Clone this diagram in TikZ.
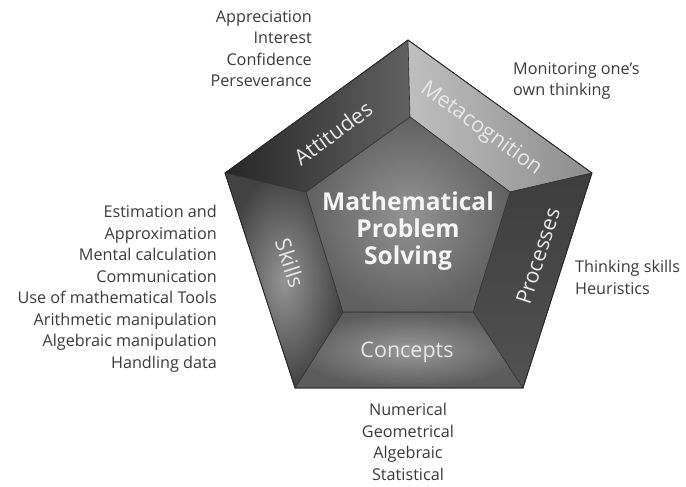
\documentclass[tikz,border=0pt]{standalone}
\usepackage{fontspec}
\setmainfont{Open Sans}
\usetikzlibrary{calc}
\definecolor{txt}{HTML}{3A3A3A}
\definecolor{lbl}{HTML}{E8E8E8}
\tikzset{
  face/.style={draw=black!80, line width=0.6pt, line join=round},
  listtxt/.style={font=\fontsize{16.2}{21.5}\selectfont, text=txt, inner sep=0pt},
  facelbl/.style={font=\fontsize{21.5}{24}\selectfont, text=lbl, inner sep=0pt},
  centerlbl/.style={font=\bfseries\fontsize{24.6}{27}\selectfont, text=black!4, align=center, inner sep=0pt},
}
\begin{document}
\begin{tikzpicture}[x=1pt,y=-1pt]
\useasboundingbox (0,0) rectangle (686,487);
% outer vertices
\coordinate (T) at (408,40);
\coordinate (R) at (592,173);
\coordinate (BR) at (523,388);
\coordinate (BL) at (295,388);
\coordinate (L) at (225,173);
% inner vertices
\coordinate (t) at (410,117);
\coordinate (r) at (510,192);
\coordinate (br) at (473,312);
\coordinate (bl) at (343,312);
\coordinate (l) at (306,192);
% faces
\shade[face, shading angle=-54, left color=black!85, right color=black!62] (L) -- (T) -- (t) -- (l) -- cycle;
\shade[face, shading angle=36, left color=black!25, right color=black!45] (T) -- (R) -- (r) -- (t) -- cycle;
\shade[face, top color=black!76, bottom color=black!68] (R) -- (BR) -- (br) -- (r) -- cycle;
\shade[face, inner color=black!40, outer color=black!64] (BR) -- (BL) -- (bl) -- (br) -- cycle;
\shade[face, inner color=black!42, outer color=black!74] (BL) -- (L) -- (l) -- (bl) -- cycle;
\shade[face, inner color=black!42, outer color=black!62] (t) -- (r) -- (br) -- (bl) -- (l) -- cycle;
\draw[black!85, line width=0.8pt, line join=round] (T) -- (R) -- (BR) -- (BL) -- (L) -- cycle;
% face labels
\node[facelbl, rotate=36] (att) at (333,133) {Attitudes};
\node[facelbl, rotate=-36] (meta) at (481,129) {Metacognition};
\node[facelbl, rotate=72] (proc) at (538,256) {Processes};
\node[facelbl] (conc) at (407,352) {Concepts};
\node[facelbl, rotate=-72] (skil) at (290,263) {Skills};
\node[centerlbl] (mps) at (408,231) {Mathematical\\Problem\\Solving};
% lists
\node[listtxt, align=right, anchor=north east] (attl) at (312,10) {Appreciation\\Interest\\Confidence\\Perseverance};
\node[listtxt, align=left, anchor=north west] (metal) at (513,62) {Monitoring one’s\\own thinking};
\node[listtxt, align=left, anchor=north west] (procl) at (575,260) {Thinking skills\\Heuristics};
\node[listtxt, align=center, anchor=north] (concl) at (408,403) {Numerical\\Geometrical\\Algebraic\\Statistical};
\node[listtxt, align=right, anchor=north east] (skill) at (217,205) {Estimation and\\Approximation\\Mental calculation\\Communication\\Use of mathematical Tools\\Arithmetic manipulation\\Algebraic manipulation\\Handling data};
\end{tikzpicture}
\end{document}
